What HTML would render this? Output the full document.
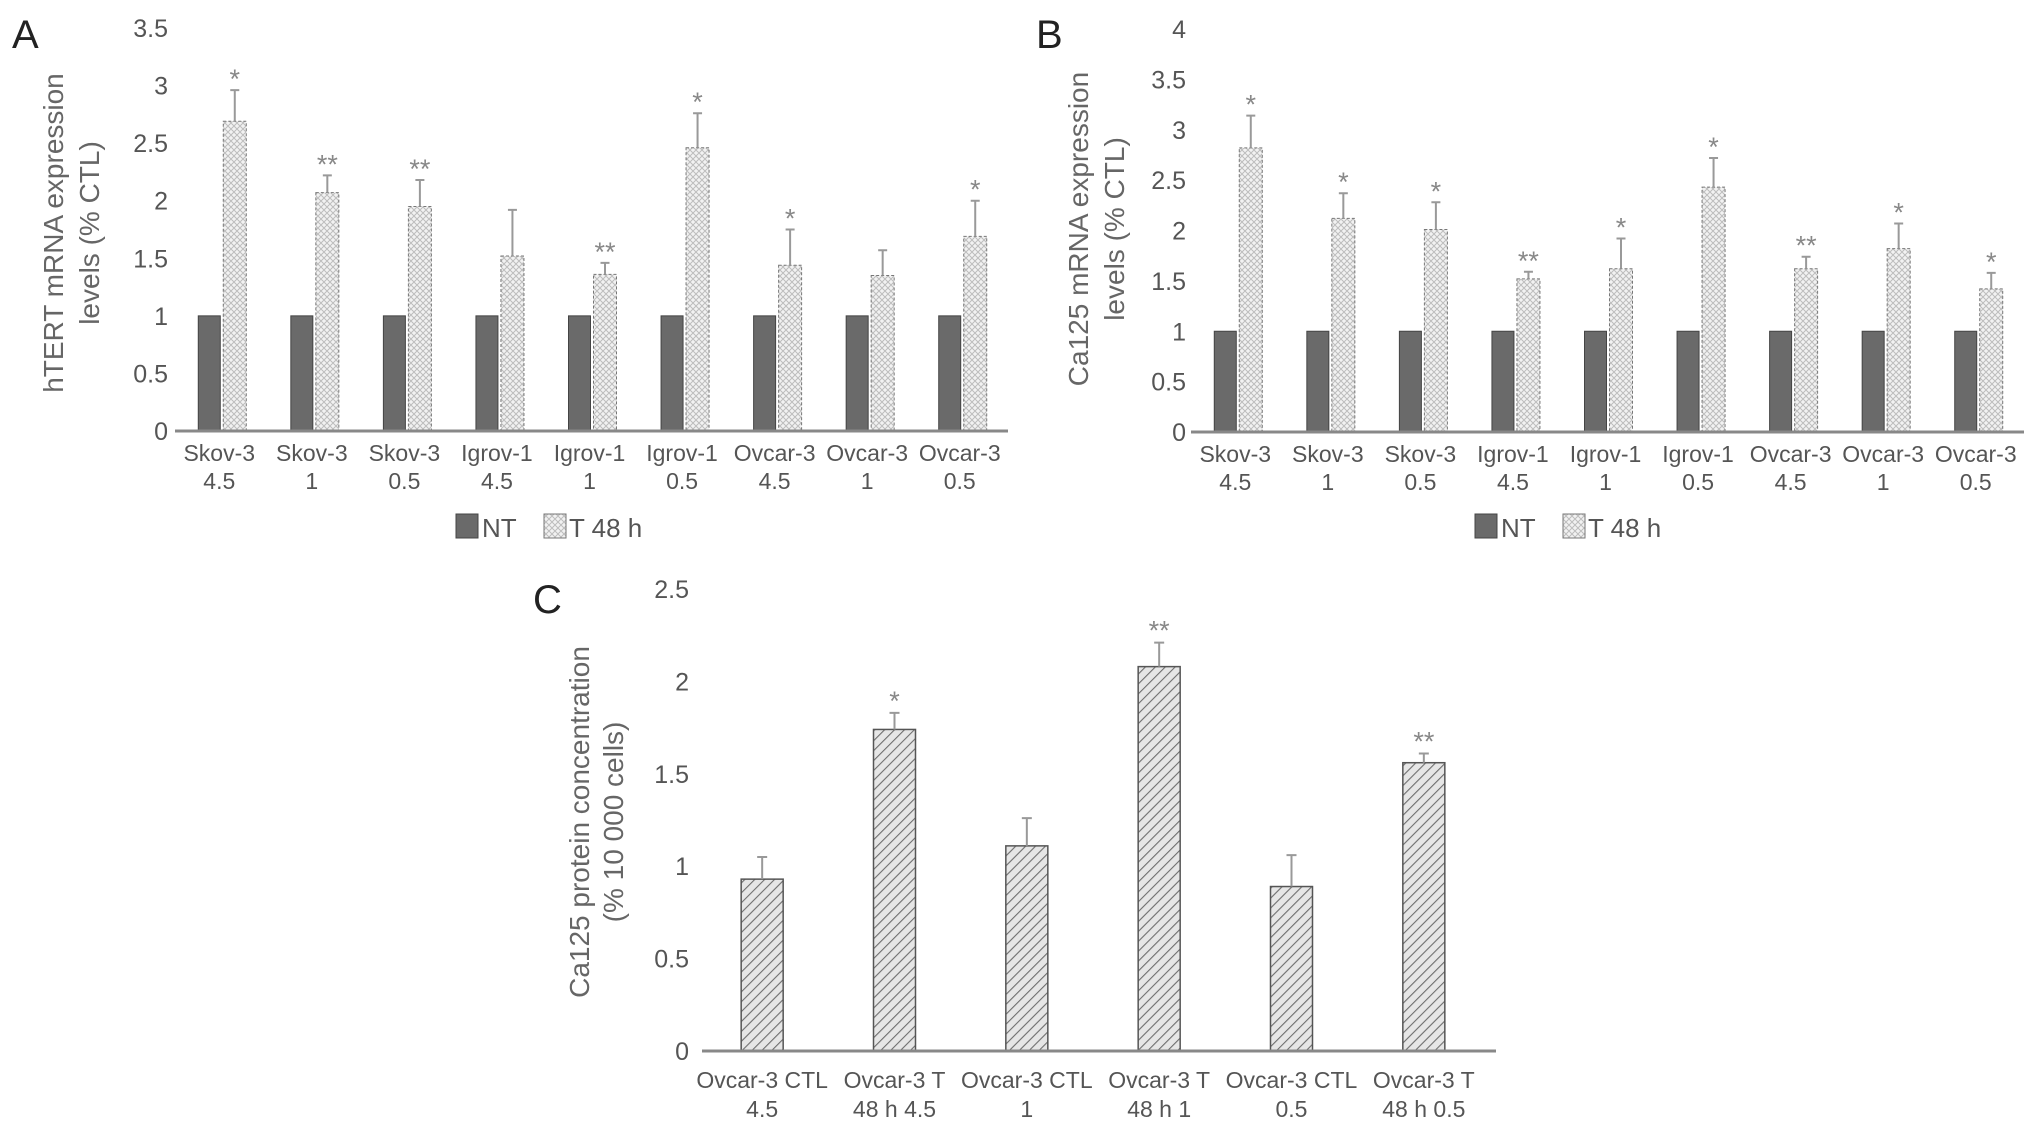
<!DOCTYPE html>
<html><head><meta charset="utf-8"><style>
html,body{margin:0;padding:0;background:#fff}
svg{display:block;font-family:"Liberation Sans",sans-serif}
</style></head><body>
<svg id="fig" width="2032" height="1127" viewBox="0 0 2032 1127" xmlns="http://www.w3.org/2000/svg">
<defs>
<pattern id="dots" width="6" height="6" patternUnits="userSpaceOnUse">
<rect width="6" height="6" fill="#f2f2f2"/>
<path d="M0 0L6 6M6 0L0 6" stroke="#bdbdbd" stroke-width="1"/>
</pattern>
<pattern id="hatch" width="7" height="7" patternUnits="userSpaceOnUse" patternTransform="rotate(45)">
<rect width="7" height="7" fill="#e6e6e6"/>
<line x1="0" y1="0" x2="0" y2="7" stroke="#6e6e6e" stroke-width="2.2"/>
</pattern>
</defs>
<g id="root"></g>
</svg>
<script>
// Panel A data
const catsA1 = ["Skov-3","Skov-3","Skov-3","Igrov-1","Igrov-1","Igrov-1","Ovcar-3","Ovcar-3","Ovcar-3"];
const catsA2 = ["4.5","1","0.5","4.5","1","0.5","4.5","1","0.5"];
const ntA = [1,1,1,1,1,1,1,1,1];
const tA = [2.69,2.07,1.95,1.52,1.36,2.46,1.44,1.35,1.69];
const errA = [0.27,0.15,0.23,0.40,0.10,0.30,0.31,0.22,0.31];
const starsA = ["*","**","**","","**","*","*","","*"];
const ticksA = [0,0.5,1,1.5,2,2.5,3,3.5];
// Panel B data
const catsB1 = ["Skov-3","Skov-3","Skov-3","Igrov-1","Igrov-1","Igrov-1","Ovcar-3","Ovcar-3","Ovcar-3"];
const catsB2 = ["4.5","1","0.5","4.5","1","0.5","4.5","1","0.5"];
const ntB = [1,1,1,1,1,1,1,1,1];
const tB = [2.82,2.12,2.01,1.52,1.62,2.43,1.62,1.82,1.42];
const errB = [0.32,0.25,0.27,0.07,0.30,0.29,0.12,0.25,0.16];
const starsB = ["*","*","*","**","*","*","**","*","*"];
const ticksB = [0,0.5,1,1.5,2,2.5,3,3.5,4];
// Panel C data
const catsC1 = ["Ovcar-3 CTL","Ovcar-3 T","Ovcar-3 CTL","Ovcar-3 T","Ovcar-3 CTL","Ovcar-3 T"];
const catsC2 = ["4.5","48 h 4.5","1","48 h 1","0.5","48 h 0.5"];
const valsC = [0.93,1.74,1.11,2.08,0.89,1.56];
const errC = [0.12,0.09,0.15,0.13,0.17,0.05];
const starsC = ["","*","","**","","**"];
const ticksC = [0,0.5,1,1.5,2,2.5];

const NS="http://www.w3.org/2000/svg";
const root=document.getElementById('root');
function mk(tag,attrs,parent,text){const e=document.createElementNS(NS,tag);for(const k in attrs)e.setAttribute(k,attrs[k]);if(text!==undefined)e.textContent=text;(parent||root).appendChild(e);return e;}

function groupedPanel(o){
  const g=mk('g',{});
  
  
  const y=v=>o.y0-(v/o.ymax)*(o.y0-o.ytop);
  const band=(o.x1-o.x0)/o.cats1.length;
  const cx=i=>o.x0+band*(i+0.5)-2;
  o.ticks.forEach(t=>{const e=mk('text',{x:o.tickX,y:y(t)+9,'text-anchor':'end','font-size':25,fill:'#555'},g,String(t));
    });
  o.cats1.forEach((c,i)=>{
    const e1=mk('text',{x:cx(i),y:o.y0+30,'text-anchor':'middle','font-size':23,fill:'#555'},g,c);
    
    const e2=mk('text',{x:cx(i),y:o.y0+58,'text-anchor':'middle','font-size':23,fill:'#555'},g,o.cats2[i]);
    
    const b1=mk('rect',{x:cx(i)-21,y:y(o.nt[i]),width:22,height:o.y0-y(o.nt[i]),fill:'#6a6a6a',stroke:'#444','stroke-width':1},g);
    
    const tx=cx(i)+4;
    const b2=mk('rect',{x:tx,y:y(o.t[i]),width:23,height:o.y0-y(o.t[i]),fill:'url(#dots)',stroke:'#777','stroke-width':1,'stroke-dasharray':'3 2'},g);
    
    const top=y(o.t[i]+o.err[i]);
    const el=mk('path',{d:`M${tx+11.5} ${y(o.t[i])}V${top}M${tx+7} ${top}H${tx+16}`,stroke:'#999','stroke-width':2,fill:'none'},g);
    
    if(o.stars[i]){const s=mk('text',{x:tx+11.5,y:top-2,'text-anchor':'middle','font-size':27,fill:'#888'},g,o.stars[i]);
      }
  });
  const ax=mk('line',{x1:o.x0,y1:o.y0,x2:o.x1,y2:o.y0,stroke:'#888','stroke-width':3},g);
  
  const ty=mk('text',{'text-anchor':'middle','font-size':28,fill:'#666',transform:`translate(${o.titleX},${o.titleY}) rotate(-90)`},g);
  
  mk('tspan',{x:0,dy:0},ty,o.title1);mk('tspan',{x:0,dy:36},ty,o.title2);
  const L=mk('text',{x:o.letterX,y:o.letterY,'font-size':40,fill:'#222'},g,o.letter);
  
  const lg=mk('g',{},g);
  const le1=mk('rect',{x:o.legX,y:o.legY-21,width:22,height:24,fill:'#6a6a6a',stroke:'#444'},lg);
  
  const lt1=mk('text',{x:o.legX+26,y:o.legY+2,'font-size':26,fill:'#555'},lg,'NT');
  
  const le2=mk('rect',{x:o.legX+88,y:o.legY-21,width:22,height:24,fill:'url(#dots)',stroke:'#777'},lg);
  
  const lt2=mk('text',{x:o.legX+113,y:o.legY+2,'font-size':26,fill:'#555'},lg,'T 48 h');
  
}

groupedPanel({name:'panel-a-chart',cats1:catsA1,cats2:catsA2,nt:ntA,t:tA,err:errA,stars:starsA,ticks:ticksA,ymax:3.5,
  y0:431,ytop:28,x0:175,x1:1008,tickX:168,title1:'hTERT mRNA expression',title2:'levels (% CTL)',titleX:63,titleY:233,
  letter:'A',letterX:12,letterY:48,legX:456,legY:535});
groupedPanel({name:'panel-b-chart',cats1:catsB1,cats2:catsB2,nt:ntB,t:tB,err:errB,stars:starsB,ticks:ticksB,ymax:4,
  y0:432,ytop:29,x0:1191,x1:2024,tickX:1186,title1:'Ca125 mRNA expression',title2:'levels (% CTL)',titleX:1088,titleY:229,
  letter:'B',letterX:1036,letterY:48,legX:1475,legY:535});

// Panel C
(function(){
  const g=mk('g',{});
  
  
  const y0=1051,ytop=589,ymax=2.5,x0=702,x1=1496;
  const y=v=>y0-(v/ymax)*(y0-ytop);
  const band=(x1-x0)/valsC.length;
  const cx=i=>x0+band*(i+0.5)-6;
  ticksC.forEach(t=>{const e=mk('text',{x:689,y:y(t)+9,'text-anchor':'end','font-size':25,fill:'#555'},g,String(t));
    });
  valsC.forEach((v,i)=>{
    const b=mk('rect',{x:cx(i)-21,y:y(v),width:42,height:y0-y(v),fill:'url(#hatch)',stroke:'#555','stroke-width':1.5},g);
    
    const top=y(v+errC[i]);
    const el=mk('path',{d:`M${cx(i)} ${y(v)}V${top}M${cx(i)-5} ${top}H${cx(i)+5}`,stroke:'#999','stroke-width':2,fill:'none'},g);
    
    if(starsC[i]){const s=mk('text',{x:cx(i),y:top-3,'text-anchor':'middle','font-size':27,fill:'#888'},g,starsC[i]);
      }
    const e1=mk('text',{x:cx(i),y:1088,'text-anchor':'middle','font-size':23,fill:'#555'},g,catsC1[i]);
    
    const e2=mk('text',{x:cx(i),y:1117,'text-anchor':'middle','font-size':23,fill:'#555'},g,catsC2[i]);
    
  });
  const ax=mk('line',{x1:x0,y1:y0,x2:x1,y2:y0,stroke:'#888','stroke-width':3},g);
  
  const ty=mk('text',{'text-anchor':'middle','font-size':28,fill:'#666',transform:'translate(589,822) rotate(-90)'},g);
  
  mk('tspan',{x:0,dy:0},ty,'Ca125 protein concentration');mk('tspan',{x:0,dy:34},ty,'(% 10 000 cells)');
  const L=mk('text',{x:533,y:613,'font-size':40,fill:'#222'},g,'C');
  
})();
</script>
</body></html>
